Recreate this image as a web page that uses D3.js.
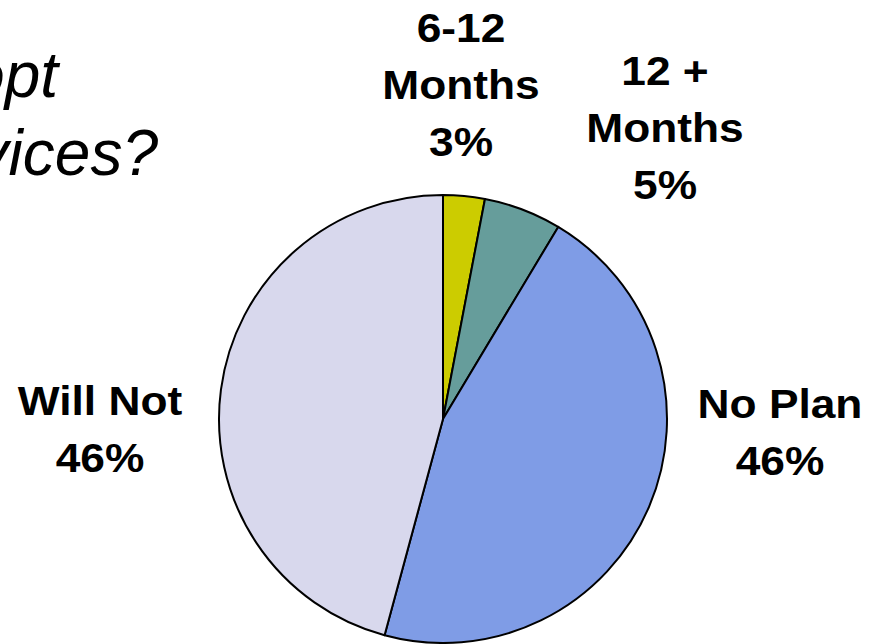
<!DOCTYPE html>
<html>
<head>
    <meta charset="UTF-8">
    <title>Adoption Pie</title>
    <script src="https://d3js.org/d3.v7.min.js"></script>
    <style>
        body { margin: 0; background: #fff; }
        svg { display: block; }
    </style>
</head>
<body>
    <svg width="875" height="644"></svg>
    <script>
        // slices, clockwise from 12 o'clock
        var categories = ['6-12 Months', '12 + Months', 'No Plan', 'Will Not'];
        var values = [3.0, 5.6, 45.6, 45.8];
        var pctLabels = ['3%', '5%', '46%', '46%'];
        var labelLines = [['6-12', 'Months'], ['12 +', 'Months'], ['No Plan'], ['Will Not']];
        var colors = ['#cccc00', '#669d9b', '#7f9ce6', '#d8d8ed'];
        var titleLines = ['adopt', 'services?'];

        var svg = d3.select('svg'),
            cx = 443, cy = 419, radius = 224;

        // title, mostly cut off on the left
        svg.append('g').selectAll('text')
            .data(titleLines)
            .enter().append('text')
            .attr('x', (d, i) => i == 0 ? 58 : 158)
            .attr('y', (d, i) => 97 + i * 78)
            .attr('text-anchor', 'end')
            .attr('font-family', 'Liberation Sans, Arial, sans-serif')
            .attr('font-style', 'italic')
            .attr('font-size', 64)
            .attr('fill', '#000')
            .text(d => d);

        var pie = d3.pie().sort(null).value(d => d);
        var arc = d3.arc().innerRadius(0).outerRadius(radius);

        var g = svg.append('g').attr('transform', 'translate(' + cx + ',' + cy + ')');
        g.selectAll('path')
            .data(pie(values))
            .enter().append('path')
            .attr('d', arc)
            .attr('fill', (d, i) => colors[i])
            .attr('stroke', '#000')
            .attr('stroke-width', 2)
            .attr('stroke-linejoin', 'round');

        // label anchor (centre x, first baseline) per slice
        var labelPos = [[461, 42], [665, 85], [780, 418], [100, 415]];
        var lineH = 57;

        var labels = svg.append('g')
            .attr('font-family', 'Liberation Sans, Arial, sans-serif')
            .attr('font-weight', 'bold')
            .attr('font-size', 41)
            .attr('text-anchor', 'middle')
            .attr('fill', '#000');

        categories.forEach(function(c, i) {
            var lines = labelLines[i].concat([pctLabels[i]]);
            var t = labels.append('text')
                .attr('transform', 'translate(' + labelPos[i][0] + ',' + labelPos[i][1] + ') scale(1.08,1)');
            t.selectAll('tspan')
                .data(lines)
                .enter().append('tspan')
                .attr('x', 0)
                .attr('y', (d, j) => j * lineH)
                .text(d => d);
        });
    </script>
</body>
</html>
